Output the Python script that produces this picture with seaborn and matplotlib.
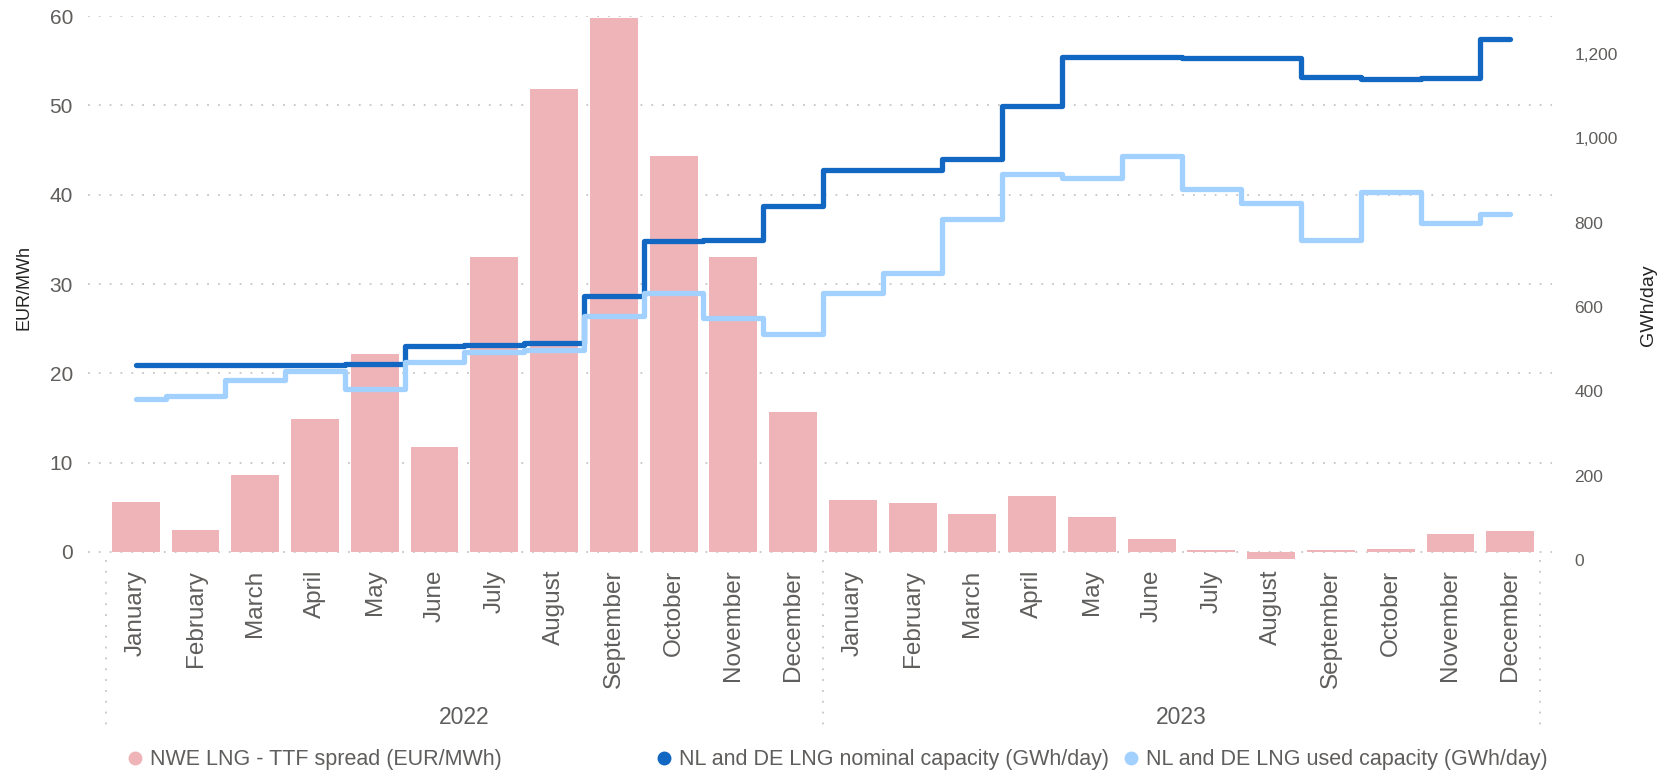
import numpy as np
import pandas as pd
import matplotlib
matplotlib.use('Agg')
import matplotlib.pyplot as plt
import matplotlib.transforms as mtransforms
from matplotlib.lines import Line2D
from matplotlib.ticker import FuncFormatter
import seaborn as sns

# Data
months = ['January', 'February', 'March', 'April', 'May', 'June', 'July',
          'August', 'September', 'October', 'November', 'December'] * 2
years = [2022] * 12 + [2023] * 12

# NWE LNG - TTF spread (EUR/MWh)
spread = [5.6, 2.5, 8.6, 14.9, 22.2, 11.8, 33.0, 51.8, 59.8, 44.3, 33.0, 15.7,
          5.8, 5.5, 4.3, 6.3, 3.9, 1.5, 0.2, -0.8, 0.2, 0.35, 2.0, 2.4]
# NL and DE LNG nominal capacity (GWh/day)
nominal = [462, 462, 462, 462, 464, 507, 511, 514, 625, 756, 760, 839,
           925, 925, 952, 1076, 1193, 1193, 1190, 1190, 1146, 1140, 1144, 1235]
# NL and DE LNG used capacity (GWh/day)
used = [383, 390, 426, 449, 405, 470, 493, 497, 578, 633, 574, 536,
        634, 680, 809, 915, 907, 959, 881, 847, 760, 873, 799, 820]

year_labels = ['2022', '2023']
legend_labels = ['NWE LNG - TTF spread (EUR/MWh)',
                 'NL and DE LNG nominal capacity (GWh/day)',
                 'NL and DE LNG used capacity (GWh/day)']

PINK = '#EFB4B8'
DARK = '#1167C1'
LIGHT = '#A3D1FF'
GREY = '#605E5C'
GRID = '#C8C6C4'

df = pd.DataFrame({'pos': np.arange(len(months)), 'month': months, 'year': years,
                   'spread': spread, 'nominal': nominal, 'used': used})

sns.set_theme(style='white')
plt.rcParams['font.family'] = ['Liberation Sans', 'DejaVu Sans']

W, H = 1661, 775
fig = plt.figure(figsize=(W / 100, H / 100), dpi=100)
ax_l, ax_r, ax_b, ax_t = 88, 1552, 560, 15.7
ax = fig.add_axes([ax_l / W, 1 - ax_b / H, (ax_r - ax_l) / W, (ax_b - ax_t) / H])

# bars
sns.barplot(data=df, x='pos', y='spread', color=PINK, saturation=1, width=0.8,
            edgecolor='none', ax=ax, zorder=2)
ax.set_axisbelow(True)
ax.set_ylim(-0.9, 60.05)
ax.set_yticks(range(0, 61, 10))
ax.grid(axis='y', linestyle=(0, (1, 5)), color=GRID, lw=1.3)
ax.grid(axis='x', visible=False)

# capacity lines on the secondary axis
ax2 = ax.twinx()
sns.lineplot(data=df, x='pos', y='nominal', color=DARK, lw=3.8, drawstyle='steps-mid',
             solid_capstyle='round', solid_joinstyle='round', ax=ax2, legend=False)
sns.lineplot(data=df, x='pos', y='used', color=LIGHT, lw=3.8, drawstyle='steps-mid',
             solid_capstyle='round', solid_joinstyle='round', ax=ax2, legend=False)
ax2.set_ylim(0, 1291)
ax2.set_yticks(range(0, 1201, 200))
ax2.yaxis.set_major_formatter(FuncFormatter(lambda v, p: f'{v:,.0f}'))
ax2.grid(False)
ax.set_xlim(-0.8, 23.7)

for a in (ax, ax2):
    for s in a.spines.values():
        s.set_visible(False)

ax.set_xticks(range(len(months)))
ax.set_xticklabels(months, rotation=90)
ax.tick_params(axis='x', length=0, pad=7, labelsize=17.5, labelcolor=GREY)
ax.tick_params(axis='y', length=0, pad=10.8, labelsize=15, labelcolor=GREY)
ax2.tick_params(axis='y', length=0, pad=16, labelsize=12.5, labelcolor=GREY)
ax.set_xlabel('')

ax.set_ylabel('EUR/MWh', fontsize=13, color='#252423')
ax.yaxis.set_label_coords((33 - ax_l) / (ax_r - ax_l), 0.5)
ax2.set_ylabel('GWh/day', fontsize=14, color='#252423', rotation=90)
ax2.yaxis.set_label_coords((1640 - ax_l) / (ax_r - ax_l), 0.468)

# year groups under the month labels
trans = mtransforms.blended_transform_factory(ax.transData, ax.transAxes)
ah = ax_b - ax_t
for i, yl in enumerate(year_labels):
    ax.text(5.5 + 12 * i, (ax_b - 717) / ah, yl, transform=trans, ha='center',
            va='center', fontsize=16.5, color=GREY)
for xv in [-0.5, 11.5, 23.5]:
    ax.plot([xv, xv], [0, (ax_b - 727) / ah], transform=trans, clip_on=False,
            ls=(0, (1, 5)), color=GRID, lw=1.3)

# legend along the bottom
for col, lab, mx in zip([PINK, DARK, LIGHT], legend_labels, [135, 664, 1131]):
    h = Line2D([], [], marker='o', ls='', color=col, markersize=9)
    fig.legend(handles=[h], labels=[lab], loc='center left',
               bbox_to_anchor=((mx - 8.6) / W, 1 - 760 / H), frameon=False,
               borderpad=0, borderaxespad=0, handlelength=0.8, handletextpad=0.3,
               fontsize=15.5, labelcolor=GREY)

fig.savefig('out.png', dpi=100)
